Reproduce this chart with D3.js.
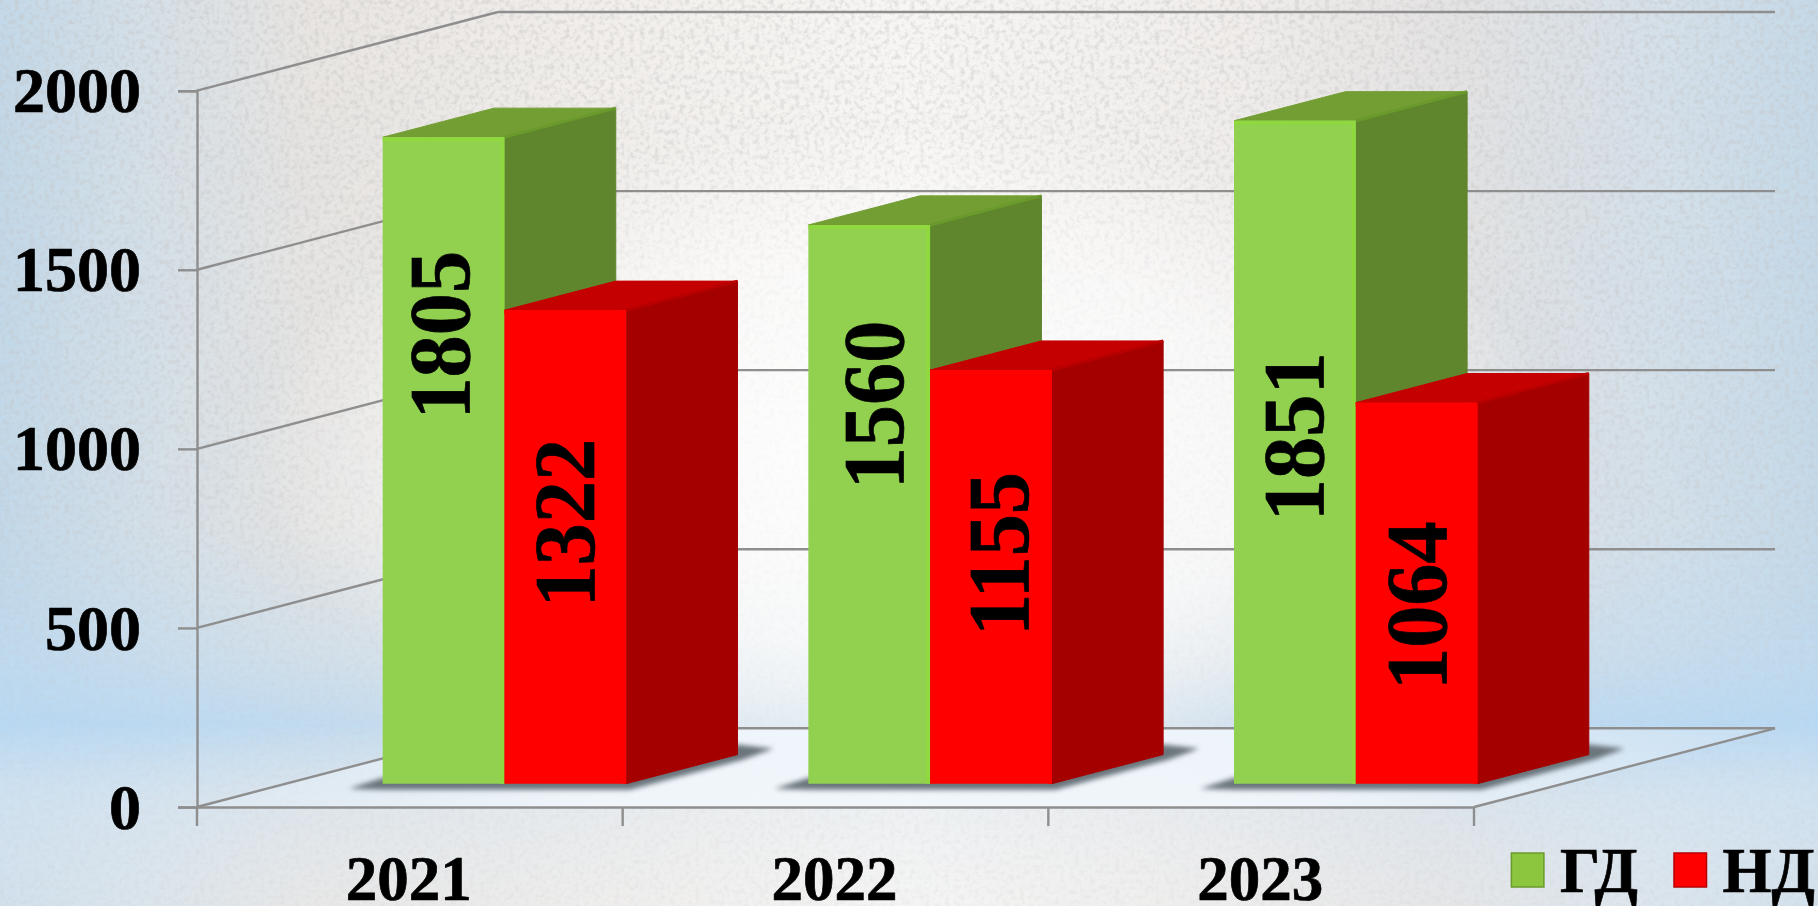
<!DOCTYPE html>
<html>
<head>
<meta charset="utf-8">
<script src="https://cdn.jsdelivr.net/npm/d3@7"></script>
<style>
  html, body { margin: 0; padding: 0; background: #fff; overflow: hidden; }
  text { font-family: "Liberation Serif", serif; font-weight: bold; fill: #000; stroke: #000; stroke-width: 0.7px; }
</style>
</head>
<body>
<div id="chart"></div>
<script>
/**
 * Data
 */
const years = ["2021", "2022", "2023"];
const seriesNames = ["ГД", "НД"];
const gdValues = [1805, 1560, 1851];
const ndValues = [1322, 1155, 1064];
const valueTicks = [0, 500, 1000, 1500, 2000];

/**
 * Basic Settings
 */
const canvasWidth = 1818;
const canvasHeight = 906;

const floorDx = 301;      // how far the back wall is shifted from the front plane
const floorDy = -78.7;
const barDepthStart = 0.296;
const barDepthEnd = 0.666;

// labels were placed by hand in the original: px from the top of the bar front, and sideways nudge
const labelDrop = [[198, 213], [180, 184], [316, 203]];
const labelNudge = [[-4, 0], [4.5, 8], [-1, 0]];

const gridColor = "#8e8e8e";
const colors = {
  ГД: { front: "#92d14f", side: "#5f852d", top: "#739e33", edge: "#8fd93f", ridge: "#6a9a2c", legend: "#8cc63f" },
  НД: { front: "#ff0000", side: "#a50000", top: "#c40000", edge: "#ff0000", ridge: "#b80000", legend: "#ff0000" }
};

const svg = d3.select("#chart")
  .append("svg")
  .attr("width", canvasWidth)
  .attr("height", canvasHeight)
  .style("display", "block");

const defs = svg.append("defs");

function gradient(id, type, attrs, stops) {
  const g = defs.append(type).attr("id", id);
  Object.keys(attrs).forEach(k => g.attr(k, attrs[k]));
  stops.forEach(s => g.append("stop")
    .attr("offset", s[0])
    .attr("stop-color", s[1])
    .attr("stop-opacity", s[2] === undefined ? 1 : s[2]));
}

/**
 * Background
 */
gradient("bg-h", "linearGradient", { x1: 0, x2: 1, y1: 0, y2: 0 }, [
  [0, "#c3d8e8"], [0.07, "#d3dfe8"], [0.17, "#e8e5e2"], [0.33, "#f1eeeb"],
  [0.5, "#f8f6f4"], [0.68, "#f0edeb"], [0.8, "#e4e3e3"], [0.92, "#d4e0ea"], [1, "#c5d9e8"]
]);
gradient("bg-glow", "radialGradient", { cx: 0.5, cy: 0.5, r: 0.36 }, [
  [0, "#ffffff", 0.9], [0.6, "#ffffff", 0.6], [1, "#ffffff", 0]
]);
gradient("bg-v", "linearGradient", { x1: 0, x2: 0, y1: 0, y2: 1 }, [
  [0, "#bedbf2", 0], [0.58, "#bedbf2", 0.1], [0.72, "#bcdaf2", 0.55], [0.8, "#b8d8f2", 0.95],
  [0.88, "#d4e5f3", 0.7], [1, "#e6edf3", 0.4]
]);
gradient("bg-v-fade", "linearGradient", { x1: 0, x2: 1, y1: 0, y2: 0 }, [
  [0, "#fff", 1], [0.18, "#fff", 0.85], [0.38, "#fff", 0.45], [0.62, "#fff", 0.45], [0.82, "#fff", 0.85], [1, "#fff", 1]
]);
gradient("floor-fill", "linearGradient", { x1: 0, x2: 1, y1: 0, y2: 0 }, [
  [0, "#e4f0fa", 0.35], [0.25, "#f1f7fc", 0.85], [0.7, "#f1f7fc", 0.85], [1, "#dcebf7", 0.35]
]);
defs.append("mask").attr("id", "bg-v-mask")
  .append("rect").attr("width", canvasWidth).attr("height", canvasHeight).attr("fill", "url(#bg-v-fade)");

// paper grain, stronger towards the top of the picture
gradient("grain-fade", "linearGradient", { x1: 0, x2: 0, y1: 0, y2: 1 }, [
  [0, "#fff", 1], [0.55, "#fff", 0.75], [0.8, "#fff", 0.2], [1, "#fff", 0.35]
]);
defs.append("mask").attr("id", "grain-mask")
  .append("rect").attr("width", canvasWidth).attr("height", canvasHeight).attr("fill", "url(#grain-fade)");

const noise = defs.append("filter").attr("id", "paper")
  .attr("x", 0).attr("y", 0).attr("width", 1).attr("height", 1);
noise.append("feTurbulence")
  .attr("type", "fractalNoise").attr("baseFrequency", 0.2).attr("numOctaves", 3).attr("seed", 4);
noise.append("feColorMatrix").attr("type", "matrix")
  .attr("values", "0 0 0 0 0.55  0 0 0 0 0.54  0 0 0 0 0.53  3.2 0 0 0 -1.45");

defs.append("filter").attr("id", "soft")
  .attr("x", "-20%").attr("y", "-100%").attr("width", "140%").attr("height", "300%")
  .append("feGaussianBlur").attr("stdDeviation", 2.5);

const bg = svg.append("g").attr("class", "background");
bg.append("rect").attr("width", canvasWidth).attr("height", canvasHeight).attr("fill", "url(#bg-h)");
bg.append("rect").attr("width", canvasWidth).attr("height", canvasHeight).attr("fill", "url(#bg-v)").attr("mask", "url(#bg-v-mask)");
bg.append("g").attr("mask", "url(#grain-mask)")
  .append("rect").attr("width", canvasWidth).attr("height", canvasHeight).attr("filter", "url(#paper)").attr("opacity", 0.42);
bg.append("rect").attr("width", canvasWidth).attr("height", canvasHeight).attr("fill", "url(#bg-glow)");

/**
 * Scale
 */
const xScale = d3.scaleBand()
  .domain(years)
  .range([197, 1474]);

const groupScale = d3.scaleBand()
  .domain(seriesNames)
  .range([96.6, 340]);

const yScale = d3.scaleLinear()
  .domain([0, 2000])
  .range([807, 90.7]);

// oblique projection: depth 0 is the front plane, depth 1 the back wall
function project(x, value, depth) {
  return [x + depth * floorDx, yScale(value) + depth * floorDy];
}
const polygon = pts => pts.map(p => p.join(",")).join(" ");

const x0 = xScale.range()[0];
const x1 = xScale.range()[1];

/**
 * Floor, walls and gridlines
 */
svg.append("polygon")
  .attr("class", "floor")
  .attr("points", polygon([project(x0, 0, 0), project(x1, 0, 0), project(x1, 0, 1), project(x0, 0, 1)]))
  .attr("fill", "url(#floor-fill)");

const walls = svg.append("g")
  .attr("class", "walls")
  .attr("fill", "none")
  .attr("stroke", gridColor)
  .attr("stroke-width", 2.4);

walls.selectAll(".side-grid")
  .data(valueTicks)
  .enter()
  .append("line")
  .attr("class", "side-grid")
  .attr("x1", d => project(x0, d, 0)[0])
  .attr("y1", d => project(x0, d, 0)[1])
  .attr("x2", d => project(x0, d, 1)[0])
  .attr("y2", d => project(x0, d, 1)[1]);

walls.selectAll(".back-grid")
  .data(valueTicks)
  .enter()
  .append("line")
  .attr("class", "back-grid")
  .attr("x1", d => project(x0, d, 1)[0])
  .attr("y1", d => project(x0, d, 1)[1])
  .attr("x2", d => project(x1, d, 1)[0])
  .attr("y2", d => project(x1, d, 1)[1]);

walls.append("line")
  .attr("x1", project(x1, 0, 0)[0])
  .attr("y1", project(x1, 0, 0)[1])
  .attr("x2", project(x1, 0, 1)[0])
  .attr("y2", project(x1, 0, 1)[1]);

/**
 * Axis
 */
const yAxis = d3.axisLeft(yScale)
  .tickValues(valueTicks)
  .tickFormat(d3.format("d"))
  .tickSize(19)
  .tickPadding(37);

const yAxisG = svg.append("g")
  .attr("class", "y-axis")
  .attr("transform", `translate(${x0}, 0)`)
  .call(yAxis);

const xAxis = d3.axisBottom(xScale)
  .tickSize(0)
  .tickPadding(50);

const xAxisG = svg.append("g")
  .attr("class", "x-axis")
  .attr("transform", `translate(0, ${yScale(0)})`)
  .call(xAxis);

xAxisG.selectAll(".x-edge")
  .data(d3.range(years.length + 1))
  .enter()
  .append("line")
  .attr("class", "x-edge")
  .attr("x1", i => x0 + i * xScale.step())
  .attr("x2", i => x0 + i * xScale.step())
  .attr("y1", 0)
  .attr("y2", 19);

svg.selectAll(".y-axis path, .x-axis path, .y-axis line, .x-axis line")
  .attr("stroke", gridColor)
  .attr("stroke-width", 2.4);

yAxisG.selectAll("text").attr("font-size", 64).attr("dy", "0.33em").style("font-family", "Liberation Serif");
xAxisG.selectAll("text").attr("font-size", 63).attr("dy", "0.69em").attr("dx", -1);

/**
 * Draw bars
 */
const flat = [];
years.forEach((year, i) => {
  flat.push({ year, name: "ГД", value: gdValues[i], i, s: 0 });
  flat.push({ year, name: "НД", value: ndValues[i], i, s: 1 });
});

// corner points of one bar
function barBox(d) {
  const left = xScale(d.year) + groupScale(d.name);
  const right = left + groupScale.bandwidth();
  return {
    fbl: project(left, 0, barDepthStart), fbr: project(right, 0, barDepthStart),
    ftl: project(left, d.value, barDepthStart), ftr: project(right, d.value, barDepthStart),
    bbr: project(right, 0, barDepthEnd),
    btl: project(left, d.value, barDepthEnd), btr: project(right, d.value, barDepthEnd)
  };
}

// shadows go under all the bars
svg.append("g")
  .attr("class", "shadows")
  .selectAll("polygon")
  .data(years)
  .enter()
  .append("polygon")
  .attr("points", y => {
    const a = xScale(y) + groupScale("ГД");
    const b = xScale(y) + groupScale("НД") + groupScale.bandwidth();
    const fl = project(a, 0, barDepthStart);
    const fr = project(b, 0, barDepthStart);
    const br = project(b, 0, barDepthEnd);
    return polygon([
      [fl[0] - 34, fl[1] + 5], [fl[0], fl[1] - 6], [fr[0], fr[1] - 8], [br[0], br[1] - 10],
      [br[0] + 36, br[1] - 6], [br[0] + 6, br[1] + 5], [fr[0] + 4, fr[1] + 6], [fl[0], fl[1] + 6]
    ]);
  })
  .attr("fill", "#6b747c")
  .attr("filter", "url(#soft)");

const bars = svg.append("g")
  .attr("class", "bars")
  .selectAll("g")
  .data(flat)
  .enter()
  .append("g")
  .attr("class", "bar");

bars.append("polygon")
  .attr("points", d => { const b = barBox(d); return polygon([b.ftl, b.btl, b.btr, b.ftr]); })
  .attr("fill", d => colors[d.name].top)
  .attr("stroke", d => colors[d.name].top)
  .attr("stroke-width", 1)
  .attr("stroke-linejoin", "round");

bars.append("polygon")
  .attr("points", d => { const b = barBox(d); return polygon([b.ftr, b.btr, b.bbr, b.fbr]); })
  .attr("fill", d => colors[d.name].side)
  .attr("stroke", d => colors[d.name].side)
  .attr("stroke-width", 1)
  .attr("stroke-linejoin", "round");

// lighter crease between the top and the side
bars.append("line")
  .attr("x1", d => barBox(d).ftr[0]).attr("y1", d => barBox(d).ftr[1])
  .attr("x2", d => barBox(d).btr[0]).attr("y2", d => barBox(d).btr[1])
  .attr("stroke", d => colors[d.name].ridge)
  .attr("stroke-width", 3);

bars.append("polygon")
  .attr("points", d => { const b = barBox(d); return polygon([b.ftl, b.ftr, b.fbr, b.fbl]); })
  .attr("fill", d => colors[d.name].front);

// lighter bevel along the top and right of the front face
bars.append("path")
  .attr("d", d => {
    const b = barBox(d);
    return `M${b.ftl[0]},${b.ftl[1] + 2}L${b.ftr[0] - 2},${b.ftr[1] + 2}L${b.fbr[0] - 2},${b.fbr[1]}`;
  })
  .attr("fill", "none")
  .attr("stroke", d => colors[d.name].edge)
  .attr("stroke-width", 4);

/**
 * Data labels
 */
bars.append("text")
  .attr("class", "bar-label")
  .attr("transform", d => {
    const b = barBox(d);
    const cx = (b.ftl[0] + b.ftr[0]) / 2 + 29 + labelNudge[d.i][d.s];
    const cy = b.ftl[1] + labelDrop[d.i][d.s];
    return `translate(${cx}, ${cy}) rotate(-90) scale(0.97, 1)`;
  })
  .attr("text-anchor", "middle")
  .attr("font-size", 87)
  .text(d => d.value);

/**
 * Legend
 */
const legendX = d3.scalePoint()
  .domain(seriesNames)
  .range([1511.4, 1674]);

const legend = svg.append("g")
  .attr("class", "legend")
  .selectAll("g")
  .data(seriesNames)
  .enter()
  .append("g")
  .attr("transform", d => `translate(${legendX(d)}, 853)`);

legend.append("rect")
  .attr("width", 32.5)
  .attr("height", 34)
  .attr("fill", d => colors[d].legend)
  .attr("stroke", d => colors[d].ridge)
  .attr("stroke-width", 1.5);

legend.append("text")
  .attr("x", 48.5)
  .attr("y", 38.7)
  .attr("font-size", 63)
  .text(d => d);
</script>
</body>
</html>
